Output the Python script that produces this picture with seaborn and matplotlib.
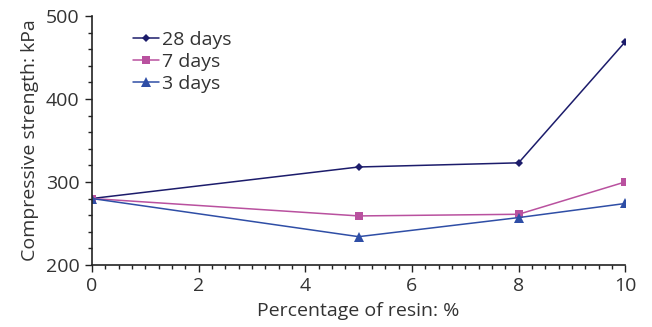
import matplotlib
matplotlib.use("Agg")
import matplotlib.pyplot as plt
from matplotlib.ticker import MultipleLocator
import seaborn as sns
import pandas as pd

resin = [0, 5, 8, 10]
days28 = [280, 318, 323, 469]
days7 = [280, 259, 261, 300]
days3 = [280, 234, 257, 274]
series_names = ["28 days", "7 days", "3 days"]

sns.set_theme(style="white")
plt.rcParams['font.family'] = ['Open Sans', 'DejaVu Sans']

df = pd.concat([
    pd.DataFrame({"resin": resin, "strength": v, "series": n})
    for n, v in zip(series_names, [days28, days7, days3])
])

colors = {"28 days": "#1c1c6b", "7 days": "#b9519f", "3 days": "#2f4ea6"}
markers = {"28 days": "D", "7 days": "s", "3 days": "^"}
msizes = {"28 days": 4.5, "7 days": 6, "3 days": 6.5}

fig = plt.figure(figsize=(6.52, 3.27), dpi=100)
ax = fig.add_axes([0.141, 0.19, 0.818, 0.761])

for n in series_names:
    sub = df[df.series == n]
    sns.lineplot(data=sub, x="resin", y="strength", ax=ax, color=colors[n],
                 marker=markers[n], markersize=msizes[n], markeredgewidth=0,
                 linewidth=1.1, label=n)

ax.set_xlim(0, 10)
ax.set_ylim(200, 500)
ax.xaxis.set_major_locator(MultipleLocator(2))
ax.xaxis.set_minor_locator(MultipleLocator(0.25))
ax.yaxis.set_major_locator(MultipleLocator(100))
ax.yaxis.set_minor_locator(MultipleLocator(20))
ax.tick_params(which="major", direction="out", length=5, width=1, color="#222222",
               labelsize=14, labelcolor="#333333", bottom=True, left=True, pad=4)
ax.tick_params(which="minor", direction="out", length=3, width=1, color="#222222",
               bottom=True, left=True)
for s in ["top", "right"]:
    ax.spines[s].set_visible(False)
for s in ["left", "bottom"]:
    ax.spines[s].set_color("#222222")
    ax.spines[s].set_linewidth(1.2)

ax.set_xlabel("Percentage of resin: %", fontsize=14, color="#333333", labelpad=5)
ax.set_ylabel("Compressive strength: kPa", fontsize=14, color="#333333", labelpad=5)

leg = ax.legend(loc="upper left", bbox_to_anchor=(0.062, 0.97), frameon=False,
                fontsize=14, handlelength=1.35, handletextpad=0.15,
                labelspacing=0.2, borderaxespad=0)
for t in leg.get_texts():
    t.set_color("#333333")

fig.savefig("out.png", dpi=100)
